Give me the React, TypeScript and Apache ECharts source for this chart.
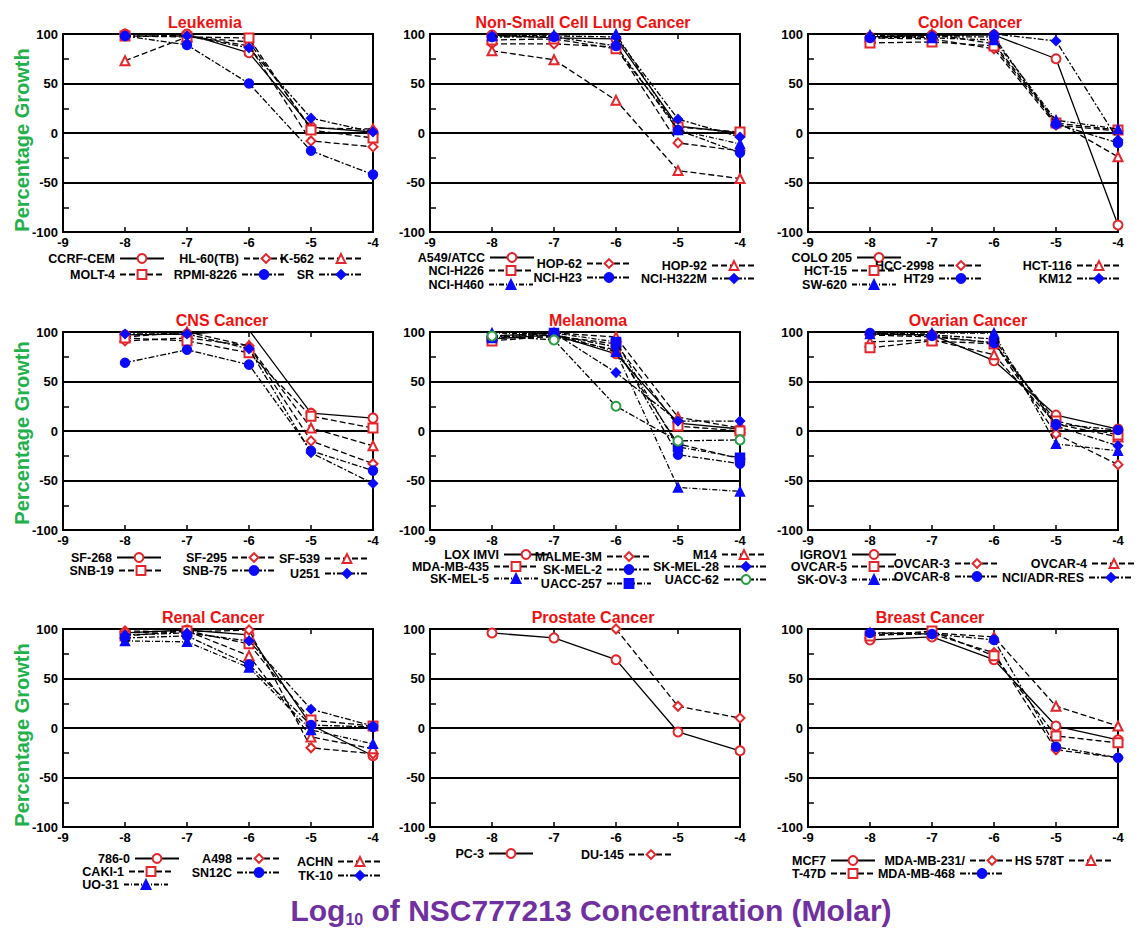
import React, { useEffect, useRef } from 'react';
import * as echarts from 'echarts';

// ---------------- DATA ----------------
const concentrations = [-8, -7, -6, -5, -4];
const xTicks = [-9, -8, -7, -6, -5, -4];

const leukemiaCells = ['CCRF-CEM', 'HL-60(TB)', 'K-562', 'MOLT-4', 'RPMI-8226', 'SR'];
const leukemiaGrowth = [
  [100, 100, 81, 6, 1],
  [100, 98, 88, -8, -14],
  [73, 97, 92, 5, 4],
  [98, 97, 96, 3, -5],
  [98, 89, 50, -18, -42],
  [98, 98, 86, 15, 1],
];

const nsclcCells = ['A549/ATCC', 'HOP-62', 'HOP-92', 'NCI-H226', 'NCI-H23', 'NCI-H322M', 'NCI-H460'];
const nsclcGrowth = [
  [99, 96, 95, 7, 0],
  [90, 90, 87, -10, -18],
  [83, 74, 33, -38, -46],
  [94, 95, 85, 6, 1],
  [97, 97, 88, 3, -20],
  [97, 98, 97, 14, -4],
  [98, 99, 100, 3, -11],
];

const colonCells = ['COLO 205', 'HCC-2998', 'HCT-116', 'HCT-15', 'HT29', 'KM12', 'SW-620'];
const colonGrowth = [
  [97, 99, 99, 75, -93],
  [96, 95, 85, 8, 2],
  [97, 100, 90, 12, -24],
  [91, 92, 88, 10, 3],
  [96, 97, 97, 9, -10],
  [97, 98, 100, 93, -7],
  [99, 96, 94, 13, 4],
];

const cnsCells = ['SF-268', 'SF-295', 'SF-539', 'SNB-19', 'SNB-75', 'U251'];
const cnsGrowth = [
  [97, 98, 102, 18, 13],
  [91, 94, 86, -10, -33],
  [95, 100, 86, 3, -15],
  [94, 91, 79, 15, 3],
  [69, 82, 67, -20, -40],
  [98, 98, 83, -22, -53],
];

const melanomaCells = ['LOX IMVI', 'MALME-3M', 'M14', 'MDA-MB-435', 'SK-MEL-2', 'SK-MEL-28', 'SK-MEL-5', 'UACC-257', 'UACC-62'];
const melanomaGrowth = [
  [93, 97, 78, 8, 2],
  [94, 95, 82, -13, -28],
  [96, 99, 95, 14, 3],
  [91, 96, 88, 5, 0],
  [95, 97, 85, -24, -33],
  [96, 99, 59, 10, 10],
  [99, 98, 80, -57, -61],
  [94, 99, 90, -16, -27],
  [96, 92, 25, -10, -9],
];

const ovarianCells = ['IGROV1', 'OVCAR-3', 'OVCAR-4', 'OVCAR-5', 'OVCAR-8', 'NCI/ADR-RES', 'SK-OV-3'];
const ovarianGrowth = [
  [98, 97, 71, 16, 2],
  [97, 95, 89, -3, -34],
  [90, 92, 77, 7, -6],
  [84, 91, 88, 10, -4],
  [99, 96, 89, 7, 1],
  [98, 97, 93, 5, -15],
  [98, 99, 99, -13, -20],
];

const renalCells = ['786-0', 'A498', 'ACHN', 'CAKI-1', 'SN12C', 'TK-10', 'UO-31'];
const renalGrowth = [
  [96, 99, 94, 3, -28],
  [98, 97, 99, -20, -26],
  [96, 98, 73, -9, -21],
  [93, 98, 85, 8, 2],
  [91, 93, 64, 3, 1],
  [94, 96, 88, 19, 2],
  [88, 87, 61, -2, -16],
];

const prostateCells = ['PC-3', 'DU-145'];
const prostateGrowth = [
  [96, 91, 69, -4, -23],
  [null, null, 100, 22, 10],
];

const breastCells = ['MCF7', 'MDA-MB-231/', 'HS 578T', 'T-47D', 'MDA-MB-468'];
const breastGrowth = [
  [89, 92, 69, 2, -12],
  [94, 95, 76, -22, -30],
  [96, 96, 92, 22, 2],
  [93, 98, 73, -8, -15],
  [96, 95, 89, -19, -30],
];

const panelTitles = [
  'Leukemia', 'Non-Small Cell Lung Cancer', 'Colon Cancer',
  'CNS Cancer', 'Melanoma', 'Ovarian Cancer',
  'Renal Cancer', 'Prostate Cancer', 'Breast Cancer',
];
const panelCells = [leukemiaCells, nsclcCells, colonCells, cnsCells, melanomaCells, ovarianCells, renalCells, prostateCells, breastCells];
const panelGrowth = [leukemiaGrowth, nsclcGrowth, colonGrowth, cnsGrowth, melanomaGrowth, ovarianGrowth, renalGrowth, prostateGrowth, breastGrowth];

const yAxisTitle = 'Percentage Growth';
const xAxisTitleMain = 'Log';
const xAxisTitleSub = '10';
const xAxisTitleRest = ' of NSC777213 Concentration (Molar)';

// ---------------- LAYOUT / STYLE ----------------
const W = 1148;
const H = 928;
const FONT = "'Liberation Sans', Arial, Helvetica, sans-serif";
const colLeft = [63, 430, 808];
const rowTop = [34, 332, 629];
const plotW = 310;
const plotH = 198;
const titleCenters = [205, 583, 970, 222, 588, 968, 213, 593, 930];
const yTitleCenters = [140, 433, 735];

// legend spots: [text right edge x, text centre y], in series order
const legendSpots = [
  [[116, 258], [240, 258], [315, 258], [116, 274], [238, 274], [315, 274]],
  [[486, 257], [583, 263], [708, 265], [485, 270], [583, 277], [708, 278], [485, 284]],
  [[853, 257], [935, 265], [1073, 265], [848, 270], [935, 278], [1073, 278], [848, 284]],
  [[113, 557], [228, 557], [321, 558], [115, 570], [228, 570], [321, 573]],
  [[500, 554], [603, 556], [718, 554], [490, 566], [603, 569], [720, 566], [490, 578], [603, 583], [720, 579]],
  [[848, 554], [951, 563], [1088, 563], [848, 566], [951, 576], [1085, 577], [848, 579]],
  [[131, 858], [233, 858], [334, 861], [125, 871], [233, 872], [334, 875], [120, 884]],
  [[485, 853], [625, 854]],
  [[827, 860], [966, 860], [1065, 860], [827, 873], [956, 873]],
];

const RED = '#e3262b';
const BLUE = '#0a0aff';
const GREEN = '#2a9d45';
const markerSymbols = ['emptyCircle', 'emptyDiamond', 'emptyTriangle', 'emptyRect', 'circle', 'diamond', 'triangle', 'rect', 'emptyCircle'];
const markerColors = [RED, RED, RED, RED, BLUE, BLUE, BLUE, BLUE, GREEN];
const lineDash: any[] = ['solid', [6, 3], [6, 3], [6, 3], [6, 2, 2, 2], [6, 2, 2, 2], [5, 2, 1, 2], [5, 2, 1, 2], [6, 2, 2, 2]];

function buildOption() {
  const grid: any[] = [];
  const xAxis: any[] = [];
  const yAxis: any[] = [];
  const series: any[] = [];
  const legend: any[] = [];
  const graphic: any[] = [];

  const axisLineStyle = { color: '#000', width: 2 };
  const labelStyle = { color: '#000', fontSize: 13, fontWeight: 'bold', fontFamily: FONT };

  panelTitles.forEach((title, p) => {
    const left = colLeft[p % 3];
    const top = rowTop[Math.floor(p / 3)];
    grid.push({ left, top, width: plotW, height: plotH, show: true, borderColor: '#000', borderWidth: 2, backgroundColor: 'transparent' });

    const baseX = {
      type: 'value', gridIndex: p, min: xTicks[0], max: xTicks[xTicks.length - 1], interval: 1,
      axisLine: { show: true, onZero: false, lineStyle: axisLineStyle },
      axisTick: { show: true, inside: true, length: 5, lineStyle: { color: '#000', width: 1.5 } },
      splitLine: { show: false },
    };
    xAxis.push({ ...baseX, position: 'bottom', axisLabel: { ...labelStyle, margin: 4 } });
    xAxis.push({ ...baseX, position: 'top', axisLabel: { show: false } });

    yAxis.push({
      type: 'value', gridIndex: p, min: -100, max: 100, interval: 50, position: 'left',
      axisLine: { show: true, onZero: false, lineStyle: axisLineStyle },
      axisTick: { show: true, inside: true, length: 6, lineStyle: { color: '#000', width: 1.5 } },
      minorTick: { show: true, splitNumber: 2, length: 6, lineStyle: { color: '#000', width: 1.5 } },
      splitLine: { show: true, lineStyle: { color: '#000', width: 2 } },
      axisLabel: { ...labelStyle, margin: 5 },
    });

    graphic.push({
      type: 'text', x: titleCenters[p], y: top - 12,
      style: { text: title, fill: '#ee1111', font: `bold 16px ${FONT}`, align: 'center', verticalAlign: 'middle' },
    });

    if (p % 3 === 0) {
      graphic.push({
        type: 'text', x: 22, y: yTitleCenters[Math.floor(p / 3)], rotation: Math.PI / 2,
        style: { text: yAxisTitle, fill: '#22b04b', font: `bold 20px ${FONT}`, align: 'center', verticalAlign: 'middle' },
      });
    }

    const cells = panelCells[p];
    const growth = panelGrowth[p];
    cells.forEach((name, i) => {
      series.push({
        type: 'line', name, xAxisIndex: 2 * p, yAxisIndex: p,
        data: growth[i].map((v, k) => [concentrations[k], v]),
        symbol: markerSymbols[i], symbolSize: 9, showSymbol: true,
        lineStyle: { color: '#000', width: 1.3, type: lineDash[i] },
        itemStyle: { color: markerColors[i], borderColor: markerColors[i], borderWidth: 1.5 },
        clip: true, connectNulls: false, z: 3 + i,
        emphasis: { disabled: true },
      });
      const [tx, ty] = legendSpots[p][i];
      const itemW = 44;
      legend.push({
        data: [name], orient: 'horizontal', align: 'right',
        right: W - (tx + 5 + itemW), top: ty - 6,
        itemWidth: itemW, itemHeight: 11, itemGap: 0, padding: 0,
        selectedMode: false,
        textStyle: { ...labelStyle, fontSize: 12.5, lineHeight: 12 },
      });
    });
  });

  graphic.push({
    type: 'text', x: 591, y: 910,
    style: {
      text: `{m|${xAxisTitleMain}}{s|${xAxisTitleSub}}{m|${xAxisTitleRest}}`,
      align: 'center', verticalAlign: 'middle',
      rich: {
        m: { fontSize: 30, fontWeight: 'bold', fontFamily: FONT, fill: '#7030a0', lineHeight: 34 },
        s: { fontSize: 16, fontWeight: 'bold', fontFamily: FONT, fill: '#7030a0', verticalAlign: 'bottom', lineHeight: 26 },
      },
    },
  });

  return {
    animation: false,
    backgroundColor: '#fff',
    textStyle: { fontFamily: FONT },
    grid, xAxis, yAxis, series, legend, graphic,
  };
}

export default function App() {
  const ref = useRef<HTMLDivElement>(null);
  useEffect(() => {
    if (!ref.current) return;
    const chart = echarts.init(ref.current, undefined, { renderer: 'svg', width: W, height: H });
    chart.setOption(buildOption() as any);
    return () => chart.dispose();
  }, []);
  return (
    <div
      ref={ref}
      style={{ position: 'absolute', left: 0, top: 0, width: W, height: H, background: '#fff' }}
    />
  );
}
